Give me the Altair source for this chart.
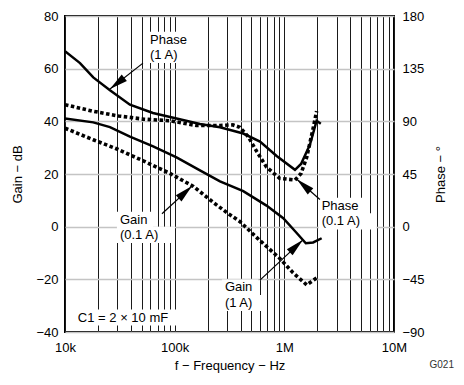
import math
import altair as alt
import pandas as pd

# ---------------- data ----------------
f_gain_1a = [1e4, 1.81e4, 2.57e4, 3.91e4, 6.36e4, 1.04e5, 1.70e5, 2.59e5, 4.22e5,
             6.88e5, 9.78e5, 1.29e6, 1.57e6, 1.83e6, 2.19e6]
gain_1a = [41.1, 39.6, 37.8, 34.2, 30.5, 26.3, 21.4, 17.2, 13.5, 8.0, 3.2, -2.3,
           -6.3, -6.0, -4.4]

f_gain_01a = [1e4, 1.81e4, 3.06e4, 5.17e4, 9.06e4, 1.48e5, 2.25e5, 3.07e5, 3.92e5,
              6.00e5, 9.06e5, 1.20e6, 1.60e6, 2.03e6]
gain_01a = [37.4, 33.0, 29.3, 25.0, 20.2, 15.3, 9.2, 5.0, 2.0, -5.3, -12.0, -17.5,
            -22.1, -19.1]

f_phase_1a = [1e4, 1.37e4, 1.81e4, 2.57e4, 3.91e4, 6.34e4, 1.04e5, 1.70e5, 2.59e5,
              4.22e5, 6.00e5, 8.51e5, 1.25e6, 1.42e6, 1.71e6, 1.97e6, 2.15e6]
phase_1a = [149.9, 139.8, 127.5, 116.5, 104.2, 97.1, 92.4, 87.8, 85.0, 79.6, 72.7,
            60.4, 48.6, 53.6, 70.0, 90.5, 88.0]

f_phase_01a = [1e4, 1.81e4, 3.06e4, 5.17e4, 9.06e4, 1.58e5, 2.59e5, 3.39e5, 3.92e5,
               4.69e5, 5.58e5, 6.88e5, 9.06e5, 1.25e6, 1.42e6, 1.60e6, 1.83e6, 1.97e6]
phase_01a = [104.2, 98.6, 94.6, 91.9, 90.5, 86.4, 86.4, 87.0, 85.0, 76.8, 64.5, 50.9,
             41.3, 39.9, 45.4, 59.3, 83.9, 98.7]

label_text = ["Phase", "(1 A)", "Gain", "(0.1 A)", "Phase", "(0.1 A)", "Gain", "(1 A)",
              "C1 = 2 × 10 mF"]
label_f = [5.96e4, 5.96e4, 3.17e4, 3.17e4, 2.19e6, 2.19e6, 2.87e5, 2.87e5, 1.31e4]
label_db = [71.0, 65.2, 2.6, -3.1, 7.9, 2.0, -23.1, -29.0, -34.5]

arrow_f1 = [5.14e4, 7.66e4, 2.11e6, 6.0e5]
arrow_db1 = [62.1, 4.9, 10.3, -20.3]
arrow_f2 = [2.57e4, 1.44e5, 1.30e6, 1.48e6]
arrow_db2 = [52.3, 15.4, 18.0, -5.0]

x_grid = [m * 10 ** e for e in range(4, 7) for m in range(1, 10)] + [10 ** 7]
gain_ticks = [-40, -20, 0, 20, 40, 60, 80]
phase_ticks = [-90, -45, 0, 45, 90, 135, 180]

# ---------------- layout ----------------
W, H = 329, 316
FONT = "Liberation Sans"
FS = 13
GAIN_DOM = [-40, 80]
PHASE_DOM = [-90, 180]

xscale = alt.Scale(type="log", domain=[10000, 10000000], nice=False)
gscale = alt.Scale(domain=GAIN_DOM, nice=False, zero=False)
pscale = alt.Scale(domain=PHASE_DOM, nice=False, zero=False)

x_axis = alt.Axis(
    values=x_grid,
    labelExpr="datum.value == 10000 ? '10k' : datum.value == 100000 ? '100k' : "
              "datum.value == 1000000 ? '1M' : datum.value == 10000000 ? '10M' : ''",
    grid=True, gridColor="#1a1a1a", gridWidth=1, ticks=False, domain=False,
    labelOverlap=False, labelFlush=False, labelPadding=9,
    title="f − Frequency − Hz", titlePadding=5,
)
g_axis = alt.Axis(values=gain_ticks, grid=True, gridColor="#c4c4c4", gridWidth=1.5,
                  ticks=False, domain=False, labelPadding=7,
                  title="Gain − dB", titlePadding=11)
p_axis = alt.Axis(orient="right", values=phase_ticks, grid=False, ticks=False,
                  domain=False, labelPadding=8, title="Phase − °", titleAngle=270,
                  titlePadding=23)

X = alt.X("f:Q", scale=xscale, axis=x_axis)

df_g1 = pd.DataFrame({"f": f_gain_1a, "v": gain_1a})
df_g01 = pd.DataFrame({"f": f_gain_01a, "v": gain_01a})
df_p1 = pd.DataFrame({"f": f_phase_1a, "v": phase_1a})
df_p01 = pd.DataFrame({"f": f_phase_01a, "v": phase_01a})

solid = dict(color="black", strokeWidth=2.5, clip=True)
dotted = dict(color="black", strokeWidth=3.6, strokeDash=[3.5, 2.5], strokeCap="butt",
              clip=True)

# white boxes behind annotation texts (derived from the label positions)
px_per_dec = W / 3.0
px_per_db = H / (GAIN_DOM[1] - GAIN_DOM[0])
box_rows = []
for t, f, v in zip(label_text, label_f, label_db):
    wpx = len(t) * FS * 0.56 + 4
    box_rows.append({
        "fa": f / 10 ** (3 / px_per_dec),
        "fb": f * 10 ** (wpx / px_per_dec),
        "va": v - (FS * 0.62) / px_per_db,
        "vb": v + (FS * 0.62) / px_per_db,
    })
df_box = pd.DataFrame(box_rows)
boxes = alt.Chart(df_box).mark_rect(color="white", opacity=1).encode(
    x=alt.X("fa:Q", scale=xscale, axis=x_axis), x2="fb:Q",
    y=alt.Y("va:Q", scale=gscale, axis=None), y2="vb:Q")

g1 = alt.Chart(df_g1).mark_line(**solid).encode(
    x=X, y=alt.Y("v:Q", scale=gscale, axis=g_axis))
g01 = alt.Chart(df_g01).mark_line(**dotted).encode(
    x=X, y=alt.Y("v:Q", scale=gscale, axis=None))
p1 = alt.Chart(df_p1).mark_line(**solid).encode(
    x=X, y=alt.Y("v:Q", scale=pscale, axis=p_axis))
p01 = alt.Chart(df_p01).mark_line(**dotted).encode(
    x=X, y=alt.Y("v:Q", scale=pscale, axis=None))

df_lab = pd.DataFrame({"f": label_f, "v": label_db, "t": label_text})
labels = alt.Chart(df_lab).mark_text(font=FONT, fontSize=FS, align="left",
                                     baseline="middle", color="black").encode(
    x=X, y=alt.Y("v:Q", scale=gscale, axis=None), text="t:N")

angles = []
for a, b, c, d in zip(arrow_f1, arrow_db1, arrow_f2, arrow_db2):
    dx = px_per_dec * (math.log10(c) - math.log10(a))
    dy = -px_per_db * (d - b)
    angles.append(math.degrees(math.atan2(dx, -dy)) % 360)
df_arr = pd.DataFrame({"f1": arrow_f1, "v1": arrow_db1, "f2": arrow_f2,
                       "v2": arrow_db2, "ang": angles})
arr_line = alt.Chart(df_arr).mark_rule(color="black", strokeWidth=1.2).encode(
    x=alt.X("f1:Q", scale=xscale, axis=x_axis),
    y=alt.Y("v1:Q", scale=gscale, axis=None),
    x2="f2:Q", y2="v2:Q")
arr_head = alt.Chart(df_arr).mark_point(
    shape="M0,0L0.6,2.6L-0.6,2.6Z", filled=True, color="black", opacity=1,
    size=196, strokeWidth=0).encode(
    x=alt.X("f2:Q", scale=xscale, axis=x_axis),
    y=alt.Y("v2:Q", scale=gscale, axis=None),
    angle=alt.Angle("ang:Q", scale=None))

foot = alt.Chart(pd.DataFrame({"t": ["G021"]})).mark_text(
    font=FONT, fontSize=10, color="#333333", align="right", baseline="middle").encode(
    text="t:N", x=alt.value(389), y=alt.value(349))

chart = alt.layer(boxes, g1, g01, p1, p01, labels, arr_line, arr_head, foot).resolve_scale(
    y="independent"
).properties(
    width=W, height=H,
    autosize=alt.AutoSizeParams(type="none"),
    padding={"left": 57, "top": 8, "right": 62, "bottom": 43},
).configure_view(stroke="black", strokeWidth=2).configure_axis(
    labelFont=FONT, labelFontSize=FS, labelColor="black",
    titleFont=FONT, titleFontSize=FS, titleFontWeight="normal", titleColor="black",
)

chart.save("out.html", embed_options={"renderer": "svg", "actions": False})
